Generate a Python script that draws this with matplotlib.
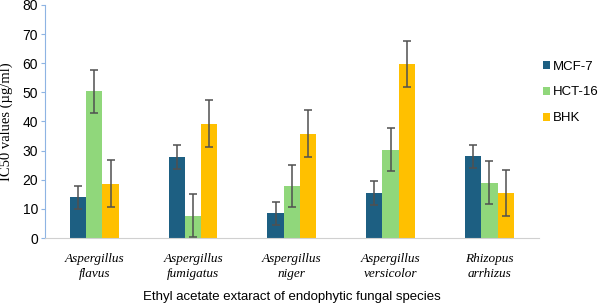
import matplotlib.pyplot as plt
import numpy as np

plt.rcParams['font.family'] = ['Liberation Sans', 'DejaVu Sans']

species = ['Aspergillus\nflavus', 'Aspergillus\nfumigatus', 'Aspergillus\nniger',
           'Aspergillus\nversicolor', 'Rhizopus\narrhizus']
mcf7 = [14.0, 27.8, 8.5, 15.5, 28.0]
mcf7_err = [4.0, 4.0, 4.0, 4.0, 4.0]
hct16 = [50.3, 7.7, 17.8, 30.3, 19.0]
hct16_err = [7.3, 7.3, 7.3, 7.3, 7.3]
bhk = [18.7, 39.2, 35.8, 59.7, 15.5]
bhk_err = [8.0, 8.0, 8.0, 8.0, 8.0]

series = [('MCF-7', mcf7, mcf7_err, '#1d5f82'),
          ('HCT-16', hct16, hct16_err, '#90d77b'),
          ('BHK', bhk, bhk_err, '#ffc000')]

fig = plt.figure(figsize=(5.98, 3.04), dpi=100)
ax = fig.add_axes([0.075, 0.217, 0.826, 0.767])

x = np.arange(len(species))
w = 0.165
for i, (name, vals, errs, col) in enumerate(series):
    ax.bar(x + (i - 1) * w, vals, w, color=col, label=name,
           yerr=errs, capsize=3,
           error_kw=dict(ecolor='#505050', elinewidth=1.1, capthick=1.1))

ax.set_xlim(-0.5, 4.5)
ax.set_ylim(0, 80)
ax.set_yticks(range(0, 81, 10))
ax.tick_params(axis='y', labelsize=10, length=3, color='#8eb4e3', direction='out', pad=2)
ax.tick_params(axis='x', length=0, pad=11)
ax.set_xticks(x)
ax.set_xticklabels(species, fontsize=9.5, family='Liberation Serif', style='italic',
                   linespacing=1.28)
for s in ['top', 'right']:
    ax.spines[s].set_visible(False)
ax.spines['left'].set_color('#8eb4e3')
ax.spines['bottom'].set_color('#d0d0d0')

ax.set_ylabel('IC50 values (µg/ml)', family='Liberation Serif', fontsize=10.5, labelpad=7)
ax.set_xlabel('Ethyl acetate extaract of endophytic fungal species', fontsize=9.5, labelpad=8)

ax.legend(loc='upper left', bbox_to_anchor=(0.997, 0.784), frameon=False,
          fontsize=9.5, handlelength=0.55, handleheight=0.55, handletextpad=0.25,
          labelspacing=1.05, borderaxespad=0)

fig.savefig('out.png', dpi=100)
